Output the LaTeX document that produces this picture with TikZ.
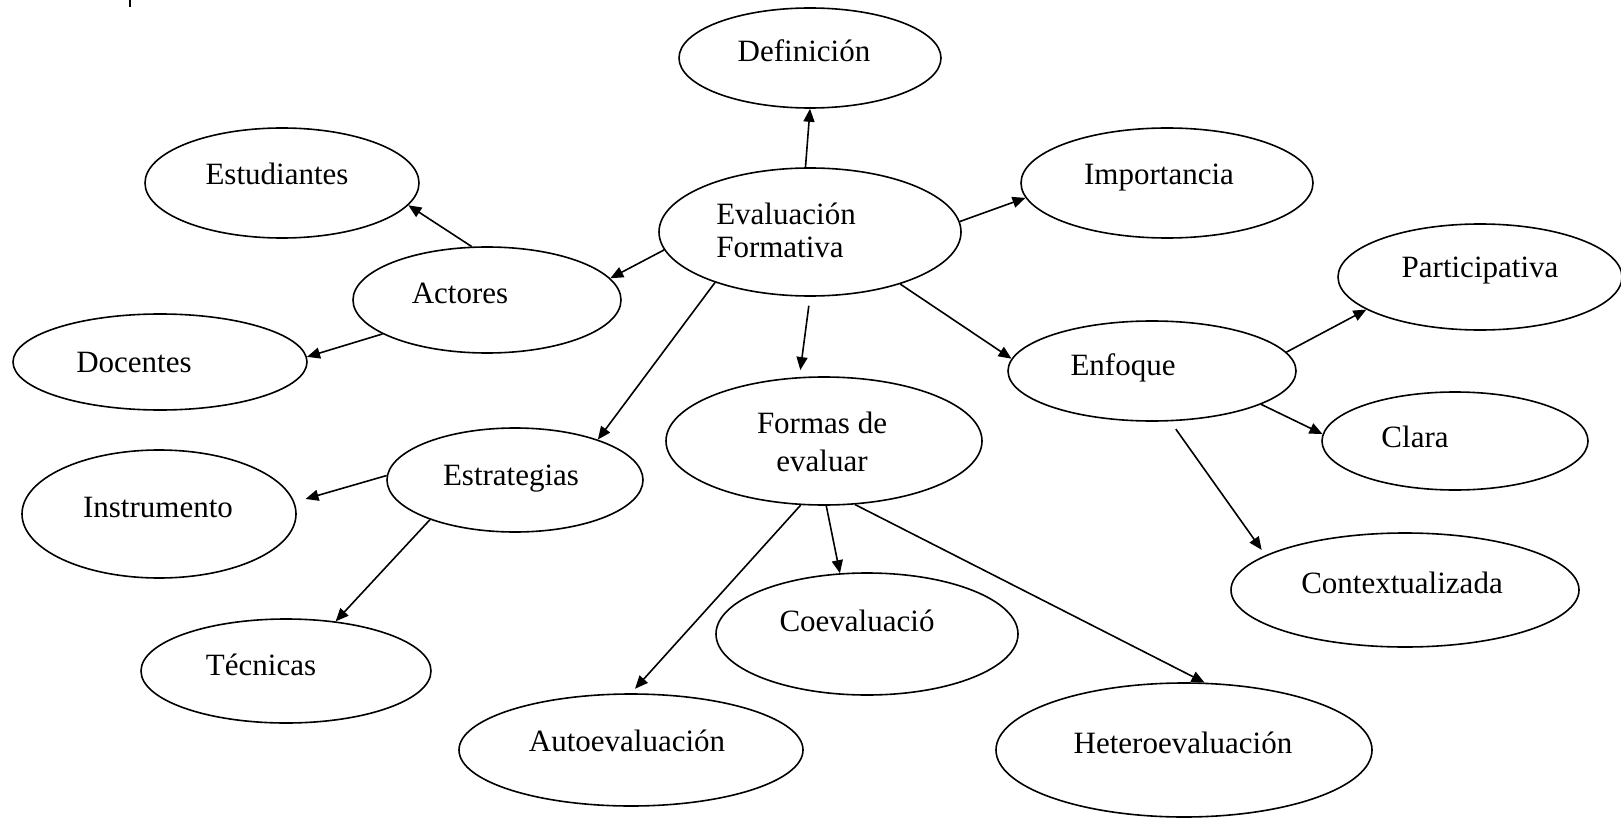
\documentclass[tikz,border=0pt]{standalone}
\usepackage{fontspec}
\setmainfont{Liberation Serif}
\usepackage{tikz}
\usetikzlibrary{shapes.geometric,arrows.meta}

\begin{document}
\begin{tikzpicture}[x=0.5pt,y=-0.5pt,
  bubble/.style 2 args={ellipse,draw,line width=0.8pt,inner sep=0pt,minimum width=#1pt,minimum height=#2pt},
  txt/.style={font=\fontsize{15.5}{16.5}\selectfont,text height=0pt,text depth=0pt},
  mtxt/.style={font=\fontsize{15.5}{16.5}\selectfont},
  link/.style={line width=0.8pt,-{Triangle[length=6.5pt,width=5.5pt]}}]
\useasboundingbox (0,0) rectangle (1621,818);
\draw[line width=0.6pt] (130,0)--(130,7);
% centro
\node[bubble={151}{64},label={[mtxt,align=left,shift={(-24,-2)}]center:Evaluación\\Formativa}] (eval) at (810,232) {};
\node[bubble={131}{50},label={[txt,shift={(-6,4)}]center:Definición}] (def) at (810,58) {};
\node[bubble={146}{55},label={[txt,shift={(-8,2)}]center:Importancia}] (imp) at (1167,183) {};
% actores
\node[bubble={134}{53},label={[txt,shift={(-27,3)}]center:Actores}] (act) at (487,300) {};
\node[bubble={137}{55},label={[txt,shift={(-5,2)}]center:Estudiantes}] (est) at (282,183) {};
\node[bubble={147}{48},label={[txt,shift={(-26,10)}]center:Docentes}] (doc) at (160,362) {};
% estrategias
\node[bubble={128}{52},label={[txt,shift={(-4,5)}]center:Estrategias}] (estr) at (515,480) {};
\node[bubble={137}{64},label={[txt,shift={(-1,3)}]center:Instrumento}] (instr) at (159,514) {};
\node[bubble={145}{52},label={[txt,shift={(-25,4)}]center:Técnicas}] (tec) at (286,671) {};
% formas de evaluar
\node[bubble={158}{64},label={[mtxt,align=center,font=\fontsize{15.5}{19}\selectfont,shift={(-2,1)}]center:Formas de\\evaluar}] (formas) at (824,441) {};
\node[bubble={151}{61},label={[txt,shift={(-10,-3)}]center:Coevaluació}] (coev) at (867,634) {};
\node[bubble={172}{56},label={[txt,shift={(-4,1)}]center:Autoevaluación}] (auto) at (631,750) {};
\node[bubble={188}{67},label={[txt,shift={(-1,3)}]center:Heteroevaluación}] (het) at (1184,750) {};
% enfoque
\node[bubble={144}{50},label={[txt,shift={(-29,4)}]center:Enfoque}] (enf) at (1152,371) {};
\node[bubble={142}{53},label={[txt,shift={(0,1)}]center:Participativa}] (part) at (1480,277) {};
\node[bubble={133}{49},label={[txt,shift={(-40,6)}]center:Clara}] (clara) at (1455,441) {};
\node[bubble={174}{57},label={[txt,shift={(-3,3)}]center:Contextualizada}] (ctx) at (1405,590) {};
% flechas
\draw[link] (eval.94)--(def.south);
\draw[link] (eval.4)--(imp.186);
\draw[link] (eval.187)--(act.10);
\draw[link] (act.106)--(est.350);
\draw[link] (act.198)--(doc.2);
\draw[link] (eval.208)--(estr.26);
\draw[link,shorten <=4.5pt,shorten >=3.5pt] (eval.270)--(formas.111);
\draw[link] (eval.330)--(enf.175);
\draw[link] (enf.8)--(part.196);
\draw[link] (enf.343)--(clara.177);
\draw[link,shorten <=4.75pt,shorten >=3.25pt] (enf.290)--(ctx.166);
\draw[link,shorten >=5.75pt] (estr.178)--(instr.5);
\draw[link] (estr.205)--(tec.45);
\draw[link,shorten >=3pt] (formas.250)--(auto.north);
\draw[link] (formas.272)--(coev.114);
\draw[link] (formas.296)--(het.73);
\end{tikzpicture}
\end{document}
